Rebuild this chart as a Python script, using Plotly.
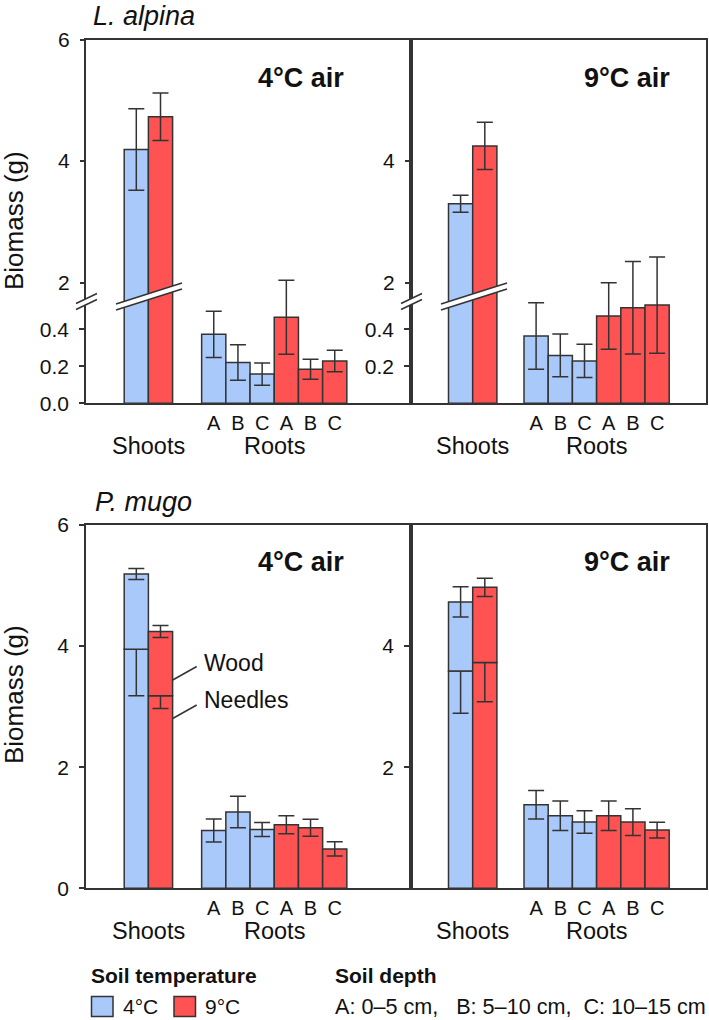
import plotly.graph_objects as go

W, H = 709, 1020

# ---------------- data ----------------
depths = ["A", "B", "C"]
soil_temps = ["4°C", "9°C"]
air_labels = ["4°C air", "9°C air"]
species = ["L. alpina", "P. mugo"]

# L. alpina, shoots [soil 4°C, soil 9°C]
la_shoot_air4 = [4.19, 4.73]
la_shoot_air4_err = [0.67, 0.39]
la_shoot_air9 = [3.30, 4.25]
la_shoot_air9_err = [0.14, 0.39]
# L. alpina, roots by depth A, B, C
la_root_air4_soil4 = [0.373, 0.220, 0.158]
la_root_air4_soil4_err = [0.125, 0.096, 0.060]
la_root_air4_soil9 = [0.465, 0.184, 0.229]
la_root_air4_soil9_err = [0.200, 0.054, 0.058]
la_root_air9_soil4 = [0.364, 0.259, 0.229]
la_root_air9_soil4_err = [0.180, 0.115, 0.090]
la_root_air9_soil9 = [0.472, 0.517, 0.531]
la_root_air9_soil9_err = [0.180, 0.250, 0.260]

# P. mugo, shoots split in needles (bottom) and wood (top)
pm_needles_air4 = [3.95, 3.18]
pm_needles_air4_err = [0.77, 0.21]
pm_wood_air4 = [1.24, 1.06]
pm_wood_air4_err = [0.09, 0.10]
pm_needles_air9 = [3.59, 3.73]
pm_needles_air9_err = [0.70, 0.65]
pm_wood_air9 = [1.14, 1.24]
pm_wood_air9_err = [0.25, 0.15]
# P. mugo roots
pm_root_air4_soil4 = [0.954, 1.259, 0.971]
pm_root_air4_soil4_err = [0.190, 0.260, 0.115]
pm_root_air4_soil9 = [1.049, 0.999, 0.651]
pm_root_air4_soil9_err = [0.150, 0.140, 0.116]
pm_root_air9_soil4 = [1.380, 1.198, 1.094]
pm_root_air9_soil4_err = [0.235, 0.245, 0.185]
pm_root_air9_soil9 = [1.198, 1.094, 0.961]
pm_root_air9_soil9_err = [0.245, 0.220, 0.130]

# ---------------- styling / geometry ----------------
C4 = "#A9C9FA"
C9 = "#FF5353"
EDGE = "#333333"
TXT = "#111111"
FONT = "Arial, Liberation Sans, Helvetica, sans-serif"

PX_L, PX_MID, PX_R = 86.0, 411.0, 706.0
BAR_PX = 24.2
SHOOT_PX = [136.3, 460.6]          # pixel centre of first shoot bar per panel
ROOT_OFF = [3.2, 3.12]             # offset of first root bar (bar units)

TOP_T, TOP_B, BREAK = 39.5, 403.3, 302.0
HI_PX_PER = 60.8                   # px per g for upper segment
HI_TICK2 = 282.7
LO_PX_PER = 185.0                  # px per g for lower segment
BOT_T, BOT_B = 525.0, 888.3


def fx(p):
    return p / W


def fy(p):
    return 1 - p / H


panel_x = [(PX_L, PX_MID), (PX_MID, PX_R)]


def xrange_for(i):
    a, b = panel_x[i]
    c = SHOOT_PX[i]
    return [-(c - a) / BAR_PX, (b - c) / BAR_PX]


fig = go.Figure()

err_style = dict(type="data", color=EDGE, thickness=1.5, width=8, visible=True)


def add_bars(x, y, err, color, xa, ya, base=None):
    kw = dict(x=x, y=y, width=1.0, xaxis=xa, yaxis=ya,
              marker=dict(color=color, line=dict(color=EDGE, width=1.5)),
              showlegend=False, hoverinfo="skip")
    if base is not None:
        kw["base"] = base
    if err is not None:
        kw["error_y"] = dict(array=err, **err_style)
    fig.add_trace(go.Bar(**kw))


shoot_pos = [0.0, 1.0]


def root_pos(i):
    s4 = [ROOT_OFF[i] + k for k in range(len(depths))]
    s9 = [ROOT_OFF[i] + len(depths) + k for k in range(len(depths))]
    return s4, s9


la_shoots = [(la_shoot_air4, la_shoot_air4_err), (la_shoot_air9, la_shoot_air9_err)]
la_roots = [
    (la_root_air4_soil4, la_root_air4_soil4_err, la_root_air4_soil9, la_root_air4_soil9_err),
    (la_root_air9_soil4, la_root_air9_soil4_err, la_root_air9_soil9, la_root_air9_soil9_err),
]
pm_shoots = [
    (pm_needles_air4, pm_needles_air4_err, pm_wood_air4, pm_wood_air4_err),
    (pm_needles_air9, pm_needles_air9_err, pm_wood_air9, pm_wood_air9_err),
]
pm_roots = [
    (pm_root_air4_soil4, pm_root_air4_soil4_err, pm_root_air4_soil9, pm_root_air4_soil9_err),
    (pm_root_air9_soil4, pm_root_air9_soil4_err, pm_root_air9_soil9, pm_root_air9_soil9_err),
]

axis_common = dict(showgrid=False, zeroline=False, linecolor=EDGE, linewidth=1.5,
                   tickcolor=EDGE, tickwidth=1.5, ticklen=5,
                   tickfont=dict(family=FONT, size=21, color=TXT))

layout_axes = {}
for i in range(2):
    xa = "x" if i == 0 else "x2"
    yr_id, yhi_id, ylo_id = [1, 2, 3] if i == 0 else [4, 5, 6]
    yb_id = 7 + i
    xb_id = 3 + i
    yr, yhi, ylo = f"y{yr_id}" if yr_id > 1 else "y", f"y{yhi_id}", f"y{ylo_id}"
    xb, yb = f"x{xb_id}", f"y{yb_id}"

    s4, s9 = root_pos(i)
    vals, errs = la_shoots[i]
    # shoots drawn on upper and lower segments (same values, clipped by each axis)
    for j, col in enumerate([C4, C9]):
        add_bars([shoot_pos[j]], [vals[j]], [errs[j]], col, xa, yhi)
        add_bars([shoot_pos[j]], [vals[j]], None, col, xa, ylo)
    r4, r4e, r9, r9e = la_roots[i]
    add_bars(s4, r4, r4e, C4, xa, yr)
    add_bars(s9, r9, r9e, C9, xa, yr)

    n, ne, w, we = pm_shoots[i]
    for j, col in enumerate([C4, C9]):
        add_bars([shoot_pos[j]], [n[j]], [ne[j]], col, xb, yb)
        add_bars([shoot_pos[j]], [w[j]], [we[j]], col, xb, yb, base=[n[j]])
    r4, r4e, r9, r9e = pm_roots[i]
    add_bars(s4, r4, r4e, C4, xb, yb)
    add_bars(s9, r9, r9e, C9, xb, yb)

    a, b = panel_x[i]
    xdom = [fx(a), fx(b)]
    xticks = dict(tickmode="array", tickvals=s4 + s9, ticktext=depths + depths,
                  ticks="", tickfont=dict(family=FONT, size=20, color=TXT),
                  ticklabelstandoff=1)
    key_x = "xaxis" if i == 0 else "xaxis2"
    layout_axes[key_x] = dict(axis_common, domain=xdom, range=xrange_for(i),
                              anchor=yr, showline=True, mirror=True, **xticks)
    layout_axes[f"xaxis{xb_id}"] = dict(axis_common, domain=xdom, range=xrange_for(i),
                                        anchor=yb, showline=True, mirror=True, **xticks)

    lo_ticks = [0.0, 0.2, 0.4] if i == 0 else [0.2, 0.4]
    hi_ticks = [2, 4, 6] if i == 0 else [2, 4]
    bot_ticks = [0, 2, 4, 6] if i == 0 else [2, 4]
    key_yr = "yaxis" if yr_id == 1 else f"yaxis{yr_id}"
    layout_axes[key_yr] = dict(axis_common, domain=[fy(TOP_B), fy(TOP_T)],
                               range=[0, (TOP_B - TOP_T) / LO_PX_PER], anchor=xa,
                               showline=True, mirror=True, ticks="outside",
                               tickmode="array", tickvals=lo_ticks,
                               ticktext=[f"{v:.1f}" for v in lo_ticks],
                               ticklabelstandoff=6)
    layout_axes[f"yaxis{yhi_id}"] = dict(axis_common, domain=[fy(BREAK), fy(TOP_T)],
                                         range=[2 - (BREAK - HI_TICK2) / HI_PX_PER,
                                                2 + (HI_TICK2 - TOP_T) / HI_PX_PER],
                                         anchor=xa, showline=False, ticks="outside",
                                         tickmode="array", tickvals=hi_ticks,
                                         ticktext=[str(v) for v in hi_ticks],
                                         ticklabelstandoff=6)
    layout_axes[f"yaxis{ylo_id}"] = dict(axis_common, domain=[fy(TOP_B), fy(BREAK)],
                                         range=[0, (TOP_B - BREAK) / LO_PX_PER],
                                         anchor=xa, showline=False, ticks="",
                                         showticklabels=False)
    layout_axes[f"yaxis{yb_id}"] = dict(axis_common, domain=[fy(BOT_B), fy(BOT_T)],
                                        range=[0, 6], anchor=xb, showline=True,
                                        mirror=True, ticks="outside",
                                        tickmode="array", tickvals=bot_ticks,
                                        ticktext=[str(v) for v in bot_ticks],
                                        ticklabelstandoff=6)

fig.update_layout(**layout_axes)

# ---------------- annotations ----------------
ann = []


def text(x, y, s, size, bold=False, italic=False, xanchor="center", angle=0):
    if bold:
        s = f"<b>{s}</b>"
    if italic:
        s = f"<i>{s}</i>"
    ann.append(dict(x=fx(x), y=fy(y), xref="paper", yref="paper", text=s,
                    showarrow=False, xanchor=xanchor, yanchor="middle",
                    textangle=angle,
                    font=dict(family=FONT, size=size, color=TXT)))


text(91, 16, species[0], 27, italic=True, xanchor="left")
text(93, 502, species[1], 27, italic=True, xanchor="left")
for i, (a, b) in enumerate(panel_x):
    right = [346, 672][i]
    text(right, 78, air_labels[i], 27, bold=True, xanchor="right")
    text(right, 562, air_labels[i], 27, bold=True, xanchor="right")
    shoot_c = SHOOT_PX[i] + 0.5 * BAR_PX
    root_c = SHOOT_PX[i] + (ROOT_OFF[i] + 2.5) * BAR_PX
    for yb in [TOP_B, BOT_B]:
        text(shoot_c, yb + 43, "Shoots", 23.5)
        text(root_c, yb + 43, "Roots", 23.5)

text(14, 221, "Biomass (g)", 26, angle=-90)
text(14, 695, "Biomass (g)", 26, angle=-90)

text(202, 663, "Wood", 23, xanchor="left")
text(202, 700, "Needles", 23, xanchor="left")

text(89, 975, "Soil temperature", 21, bold=True, xanchor="left")
text(121, 1006, soil_temps[0], 21, xanchor="left")
text(203, 1006, soil_temps[1], 21, xanchor="left")
text(333, 975, "Soil depth", 21, bold=True, xanchor="left")
text(333, 1006, "A: 0–5 cm,&nbsp;&nbsp;&nbsp;B: 5–10 cm,&nbsp;&nbsp;C: 10–15 cm", 21.6, xanchor="left")

# ---------------- shapes ----------------
shapes = []


def line(x0, y0, x1, y1, w=1.5):
    shapes.append(dict(type="line", xref="paper", yref="paper",
                       x0=fx(x0), y0=fy(y0), x1=fx(x1), y1=fy(y1),
                       line=dict(color=EDGE, width=w), layer="above"))


def band(x0, x1, y0_top, y1_top, thick):
    pts = [(x0, y0_top), (x1, y1_top), (x1, y1_top + thick), (x0, y0_top + thick)]
    path = "M " + " L ".join(f"{fx(px):.5f},{fy(py):.5f}" for px, py in pts) + " Z"
    shapes.append(dict(type="path", xref="paper", yref="paper", path=path,
                       fillcolor="white", line=dict(width=0), layer="above"))
    line(x0, y0_top, x1, y1_top)
    line(x0, y0_top + thick, x1, y1_top + thick)


for a, _ in panel_x:
    band(a - 10, a + 11, 303.5, 293.5, 6)
    band(a + 30, a + 96, 304.0, 283.0, 6)

line(172.7, 680, 196.7, 666.5)
line(172.7, 718.5, 196.7, 705)

for x0, col in [(91.5, C4), (174, C9)]:
    shapes.append(dict(type="rect", xref="paper", yref="paper",
                       x0=fx(x0), x1=fx(x0 + 21.5), y0=fy(1016.5), y1=fy(996.5),
                       fillcolor=col, line=dict(color=EDGE, width=1.5)))

fig.update_layout(
    width=W, height=H,
    margin=dict(l=0, r=0, t=0, b=0, pad=0, autoexpand=False),
    paper_bgcolor="white", plot_bgcolor="rgba(0,0,0,0)",
    barmode="overlay", showlegend=False,
    annotations=ann, shapes=shapes,
    font=dict(family=FONT, color=TXT),
)

fig.write_html(
    "out.html",
    config={"displayModeBar": False, "responsive": False},
    post_script=(
        "document.documentElement.style.margin='0';"
        "document.documentElement.style.overflow='hidden';"
        "document.body.style.margin='0';"
        "document.body.style.overflow='hidden';"
        "var g=document.getElementsByClassName('plotly-graph-div')[0];"
        "g.style.position='fixed';g.style.top='0px';g.style.left='0px';"
    ),
)
